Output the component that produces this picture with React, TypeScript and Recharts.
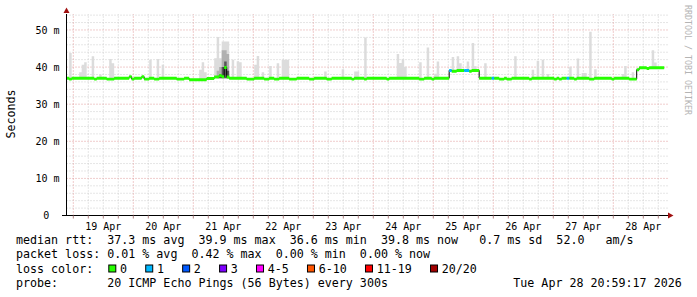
import { ComposedChart, Area, XAxis, YAxis, ReferenceLine } from 'recharts'

const MONO = "'DejaVu Sans Mono', monospace"

// hourly bins, hour 0 = 19 Apr 00:00
const firstBin = -3
const lastBin = 235
const binOffset = 0.35

// median rtt (ms) - level changes and small deviations
const levelStartBins = [-3, 150, 162, 225, 226]
const levelValues = [37.0, 39.1, 37.0, 39.3, 39.8]

const dipBins = [-2, 8, 13, 14, 15, 23, 28, 29, 32, 33, 41, 42, 43, 69, 70, 71, 76, 77, 80, 81, 86, 87, 88,
  94, 95, 101, 102, 111, 116, 125, 138, 139, 143, 170, 171, 173, 174, 182, 192, 194, 200, 206, 207, 215, 222, 223, 224]
const dipValue = 36.75

const tweakBins = [22, 27, 46, 47, 48, 49, 50, 51, 52, 53, 54, 55, 56, 57, 58, 59, 60, 61, 151, 152, 158, 229]
const tweakValues = [37.4, 37.4, 36.6, 36.6, 36.6, 36.6, 36.6, 36.6, 36.6, 36.9, 36.9, 36.9, 37.3, 37.3, 37.7, 37.4, 39.9, 37.3, 38.9, 38.9, 38.9, 39.6]

// smoke (max ping per bin)
const smokeBins = [-2, 2, 3, 4, 7, 10, 14, 15, 30, 33, 35, 50, 51, 52, 56, 57, 58, 59, 60, 61, 63, 65, 66, 72, 73, 75, 78, 81, 83, 84, 85,
  100, 107, 112, 113, 116, 129, 130, 131, 132, 138, 141, 144, 145, 151, 153, 154, 157, 159, 160, 164, 176, 183, 185, 187, 189,
  198, 201, 203, 204, 206, 208, 219, 220, 223, 231, 232]
const smokeTops = [43.8, 38.6, 40.6, 41.3, 42.9, 38.0, 42.2, 41.0, 42.0, 42.2, 40.6, 39.3, 41.3, 38.6, 42.4, 48.1, 42.4, 46.9, 46.9, 46.9, 42.0, 41.6, 41.3, 40.6, 43.0, 38.6, 40.3, 41.0, 42.0, 42.0, 42.0,
  38.8, 39.4, 38.8, 38.8, 48.0, 43.5, 41.1, 42.2, 40.1, 41.3, 45.3, 38.2, 41.5, 42.7, 42.9, 41.0, 41.5, 46.5, 40.2, 41.0, 42.9, 39.3, 41.7, 42.0, 38.1,
  40.1, 42.3, 38.4, 38.4, 49.5, 39.4, 38.1, 40.3, 38.6, 44.5, 41.2]
const midSmokeBins = [57, 58, 59, 60, 61]
const midSmokeTops = [39.0, 40.0, 44.5, 44.5, 43.5]
const darkSmokeBins = [58, 59, 60, 61]
const darkSmokeTops = [38.0, 40.0, 41.5, 39.0]

// bins with 1/20 loss
const lossOneBins = [150, 156, 157, 167, 197]

const dayLabels = ['19 Apr', '20 Apr', '21 Apr', '22 Apr', '23 Apr', '24 Apr', '25 Apr', '26 Apr', '27 Apr', '28 Apr']
const yMajor = [10, 20, 30, 40, 50]

const statLines = [
  'median rtt:  37.3 ms avg  39.9 ms max  36.6 ms min  39.8 ms now   0.7 ms sd  52.0   am/s',
  'packet loss: 0.01 % avg  0.42 % max  0.00 % min  0.00 % now',
  'loss color:',
]
const lossLabels = ['0', '1', '2', '3', '4-5', '6-10', '11-19', '20/20']
const lossColors = ['#26ff00', '#00b8ff', '#0059ff', '#7e00ff', '#ff00ff', '#ff5500', '#ff0000', '#a00000']
const probeText = 'probe:       20 ICMP Echo Pings (56 Bytes) every 300s'
const dateText = 'Tue Apr 28 20:59:17 2026'

const medianAt = (n: number) => {
  let v = levelValues[0]
  levelStartBins.forEach((b, i) => { if (n >= b) v = levelValues[i] })
  if (dipBins.includes(n)) v = dipValue
  const ti = tweakBins.indexOf(n)
  if (ti >= 0) v = tweakValues[ti]
  return v
}

const lookup = (bins: number[], tops: number[], n: number) => {
  const i = bins.indexOf(n)
  return i >= 0 ? tops[i] : null
}

const rows: any[] = []
for (let n = firstBin; n <= lastBin; n++) {
  const med = medianAt(n)
  const top = lookup(smokeBins, smokeTops, n)
  const mid = lookup(midSmokeBins, midSmokeTops, n)
  const dark = lookup(darkSmokeBins, darkSmokeTops, n)
  const lossy = lossOneBins.includes(n)
  const band = [med - 0.4, med + 0.4]
  const row = {
    median: med,
    smoke: [med, top !== null ? Math.max(top, med) : med],
    mid: mid !== null ? [37.0, mid] : null,
    dark: dark !== null ? [37.0, dark] : null,
    green: lossy ? null : band,
    blue: lossy ? band : null,
  }
  rows.push({ t: n + binOffset, ...row })
  rows.push({ t: n + 1 + binOffset, ...row })
}

const xTicks: number[] = []
for (let h = 0; h <= 234; h += 6) xTicks.push(h)
const yTicks: number[] = []
for (let v = 0; v <= 54; v += 2) yTicks.push(v)

const YTick = ({ x, y, payload }: any) => {
  const v = payload.value
  if (v % 10 !== 0) return <g />
  return (
    <text x={v === 0 ? x - 10.2 : x} y={y} dy="0.355em" textAnchor="end" fontFamily={MONO} fontSize={10} fill="#000">
      {v === 0 ? '0' : `${v} m`}
    </text>
  )
}

const XTick = ({ x, y, payload }: any) => {
  const v = payload.value
  if (v % 24 !== 12) return <g />
  return (
    <text x={x} y={y} dy="0.71em" textAnchor="middle" fontFamily={MONO} fontSize={10} fill="#000">
      {dayLabels[(v - 12) / 24]}
    </text>
  )
}

const LossLegend = () => {
  const charW = 7.026
  let sx = 108.3
  const items = lossLabels.map((label, i) => {
    const el = (
      <g key={label}>
        <rect x={sx + 0.5} y={265} width={7} height={7} fill={lossColors[i]} stroke="#000" strokeWidth={1} />
        <text x={sx + 11.7} y={272.5} fontFamily={MONO} fontSize={11.67} fill="#000">{label}</text>
      </g>
    )
    sx = sx + 11.7 + label.length * charW + 18.2
    return el
  })
  return <g>{items}</g>
}

export default function App() {
  return (
    <div style={{ position: 'absolute', left: 0, top: 0, width: 697, height: 297, background: '#fff' }}>
      <ComposedChart width={697} height={297} data={rows} margin={{ top: 14, right: 29, bottom: 0, left: 0 }}>
        {yTicks.filter(v => v > 0 && v % 10 !== 0).map(v => (
          <ReferenceLine key={'hy' + v} y={v} stroke="#cccccc" strokeDasharray="1 2" zIndex={-100} />
        ))}
        {xTicks.filter(h => h % 24 !== 0).map(h => (
          <ReferenceLine key={'hx' + h} x={h} stroke="#cccccc" strokeDasharray="1 2" zIndex={-100} />
        ))}
        {yMajor.map(v => (
          <ReferenceLine key={'my' + v} y={v} stroke="#e09a9a" strokeDasharray="1 2" zIndex={-90} />
        ))}
        {xTicks.filter(h => h % 24 === 0).map(h => (
          <ReferenceLine key={'mx' + h} x={h} stroke="#e09a9a" strokeDasharray="1 2" zIndex={-90} />
        ))}
        <XAxis
          type="number"
          dataKey="t"
          domain={[-2.72, 237.88]}
          allowDataOverflow
          ticks={xTicks}
          interval={0}
          tick={<XTick />}
          tickSize={3}
          tickMargin={4}
          tickLine={{ stroke: '#b08080' }}
          axisLine={{ stroke: '#000' }}
          height={81.5}
        />
        <YAxis
          type="number"
          domain={[0, 54.3]}
          allowDataOverflow
          ticks={yTicks}
          interval={0}
          tick={<YTick />}
          tickSize={3}
          tickMargin={4}
          tickLine={false}
          axisLine={{ stroke: '#000' }}
          width={66.5}
        />
        <Area type="linear" dataKey="smoke" stroke="none" fill="#dcdcdc" fillOpacity={1} isAnimationActive={false} activeDot={false} />
        <Area type="linear" dataKey="mid" stroke="none" fill="#b0b0b0" fillOpacity={1} isAnimationActive={false} activeDot={false} />
        <Area type="linear" dataKey="dark" stroke="none" fill="#555555" fillOpacity={1} isAnimationActive={false} activeDot={false} />
        <Area type="linear" dataKey="median" stroke="#000" strokeWidth={1} fill="none" isAnimationActive={false} activeDot={false} />
        <Area type="linear" dataKey="green" stroke="none" fill="#26ff00" fillOpacity={1} isAnimationActive={false} activeDot={false} />
        <Area type="linear" dataKey="blue" stroke="none" fill="#00b8ff" fillOpacity={1} isAnimationActive={false} activeDot={false} />
      </ComposedChart>
      <svg width={697} height={297} style={{ position: 'absolute', left: 0, top: 0, pointerEvents: 'none' }}>
        <text transform="translate(11,114) rotate(-90)" textAnchor="middle" dominantBaseline="central" fontFamily={MONO} fontSize={11.67} fill="#000">
          Seconds
        </text>
        <text transform="translate(688,5) rotate(90)" dominantBaseline="central" fontFamily={MONO} fontSize={8.3} fill="#b4b4b4">
          RRDTOOL / TOBI OETIKER
        </text>
        <line x1={62} y1={215.5} x2={67} y2={215.5} stroke="#000" />
        <polygon points="63.5,13 69.5,13 66.5,7.5" fill="#a01010" />
        <polygon points="668,212.5 668,218.5 673.5,215.5" fill="#a01010" />
        {statLines.map((s, i) => (
          <text key={i} x={16} y={244.3 + i * 14.1} fontFamily={MONO} fontSize={11.67} fill="#000" style={{ whiteSpace: 'pre' }}>
            {s}
          </text>
        ))}
        <LossLegend />
        <text x={16} y={286.6} fontFamily={MONO} fontSize={11.67} fill="#000" style={{ whiteSpace: 'pre' }}>
          {probeText}
        </text>
        <text x={513.3} y={286.6} fontFamily={MONO} fontSize={11.67} fill="#000">
          {dateText}
        </text>
      </svg>
    </div>
  )
}
